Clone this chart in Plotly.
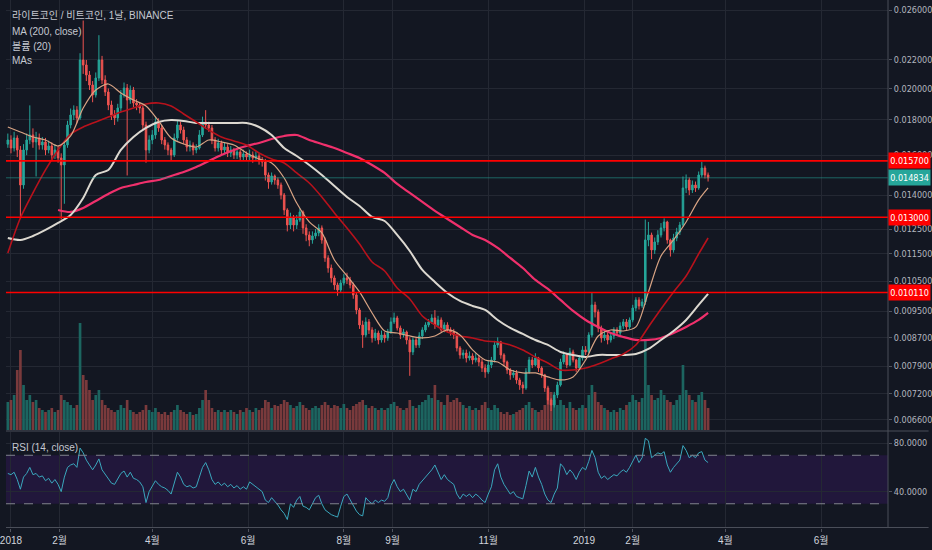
import numpy as np
import pandas as pd
import plotly.graph_objects as go

# LTC/BTC, two-day candles; prices in 1e-6 BTC
dates = pd.date_range("2017-12-30", periods=224, freq="2D")

close_u = [
    16835, 16390, 16948, 16281, 14483, 16281, 16835, 17118, 16723, 16948,
    16556, 16723, 16281, 16501, 16011, 16281, 15852, 15485, 16556, 17701,
    18302, 18611, 18120, 21997, 21633, 20921, 20233, 19568, 20713, 21997,
    20575, 19766, 18925, 18302, 18120, 18736, 19568, 20031, 19244, 19898,
    19052, 18925, 18736, 17701, 16281, 16835, 17118, 17880, 17524, 16835,
    16556, 16281, 16011, 16948, 17701, 17407, 16835, 16445, 16556, 16281,
    16390, 17118, 17880, 17701, 17524, 16835, 16390, 16667, 16281, 16445,
    16119, 16281, 16011, 16173, 15905, 16064, 15905, 16011, 15852, 15958,
    15746, 15641, 14975, 14629, 14926, 14727, 14483, 14007, 13322, 12670,
    12970, 12670, 12883, 13233, 12544, 12253, 12050, 12213, 12335, 12544,
    12050, 11347, 10973, 10612, 10367, 10195, 10436, 10612, 10541, 10367,
    10026, 9535, 9069, 8771, 9161, 8918, 8683, 8829, 8625, 8771,
    8683, 8859, 9161, 9284, 8978, 8771, 8859, 8625, 8286, 8625,
    8482, 8741, 8918, 9069, 9161, 9284, 9069, 9222, 8918, 9069,
    8918, 8859, 8771, 8398, 8203, 8257, 8120, 8175, 8067, 8120,
    8013, 7854, 7750, 7933, 8067, 8482, 8568, 8203, 8013, 7802,
    7673, 7724, 7545, 7420, 7346, 7750, 8067, 7933, 8120, 7854,
    7673, 7346, 7057, 6940, 7176, 7420, 8013, 8203, 7933, 8286,
    8067, 7854, 8120, 8342, 8286, 8771, 9696, 9472, 8978, 8683,
    8771, 8625, 8741, 8918, 8829, 9039, 9161, 9009, 9222, 9599,
    9860, 9664, 9794, 12050, 12253, 11654, 11970, 12253, 12544, 12798,
    12050, 11654, 12130, 12377, 12670, 14339, 14727, 14243, 14483, 14339,
    14975, 15329, 14975, 14834,
]
high_u = [
    17200, 17100, 17300, 17100, 16500, 16600, 17200, 18900, 17500, 17300,
    17200, 17000, 16950, 16800, 16700, 16600, 16500, 16100, 16800, 17950,
    18700, 18900, 18850, 22500, 25100, 22000, 21200, 20500, 21100, 23900,
    22300, 20900, 20000, 19200, 18600, 19000, 19900, 20400, 20300, 20200,
    20100, 19300, 19100, 18900, 17900, 17100, 17400, 18200, 18100, 17700,
    17000, 16700, 16400, 17200, 18000, 17900, 17600, 17000, 16800, 16700,
    16600, 17400, 18200, 18600, 17900, 17700, 17000, 16900, 16800, 16700,
    16600, 16500, 16400, 16400, 16300, 16300, 16200, 16300, 16200, 16200,
    16100, 15900, 15800, 15100, 15100, 15000, 14850, 14600, 14100, 13400,
    13200, 13100, 13100, 13400, 13300, 12700, 12400, 12400, 12500, 12700,
    12650, 12150, 11450, 11100, 10700, 10450, 10550, 10750, 10800, 10650,
    10450, 10100, 9600, 9200, 9300, 9250, 9000, 8950, 8900, 8900,
    8850, 8950, 9300, 9450, 9350, 9050, 8950, 8900, 8700, 8700,
    8700, 8850, 9000, 9150, 9250, 9400, 9530, 9350, 9300, 9150,
    9150, 9000, 8950, 8850, 8450, 8350, 8350, 8300, 8250, 8250,
    8200, 8100, 7950, 8050, 8150, 8600, 8700, 8600, 8250, 8050,
    7850, 7800, 7800, 7600, 7500, 7850, 8150, 8150, 8250, 8150,
    7900, 7700, 7400, 7100, 7250, 7500, 8100, 8300, 8250, 8400,
    8350, 8100, 8200, 8450, 8450, 8850, 10100, 9800, 9550, 9050,
    8900, 8850, 8850, 9000, 9000, 9150, 9250, 9250, 9300, 9700,
    9950, 9950, 9900, 12900, 12800, 12350, 12150, 12450, 12750, 12950,
    12850, 12100, 12300, 12550, 12800, 14900, 15000, 14850, 14700, 14650,
    15150, 15650, 15450, 15100,
]
low_u = [
    16400, 16100, 16200, 15900, 13000, 14300, 16000, 16600, 16400, 14900,
    16300, 16300, 16000, 16100, 15700, 15800, 15600, 12900, 13600, 16400,
    17500, 18000, 17800, 18000, 21000, 20500, 19900, 19100, 19400, 20500,
    20300, 19500, 18600, 18000, 17700, 17900, 18500, 19400, 14950, 19000,
    18800, 18600, 18400, 17400, 15600, 16100, 16600, 16900, 17300, 16600,
    16300, 16000, 15700, 15900, 16800, 17200, 16600, 16200, 16200, 16000,
    16100, 16300, 17000, 17500, 17300, 16600, 16200, 16200, 16000, 16100,
    15900, 15900, 15800, 15800, 15700, 15700, 15700, 15700, 15600, 15700,
    15500, 15400, 14700, 14300, 14500, 14500, 14300, 13800, 13100, 12400,
    12500, 12400, 12500, 12800, 12300, 12000, 11800, 11900, 12100, 12200,
    11900, 11200, 10800, 10450, 10200, 10000, 10100, 10350, 10400, 10250,
    9900, 9400, 8950, 8400, 8700, 8800, 8550, 8600, 8500, 8550,
    8550, 8600, 8800, 9100, 8900, 8650, 8700, 8500, 7650, 8200,
    8400, 8400, 8650, 8850, 9000, 9100, 8950, 9000, 8850, 8850,
    8850, 8750, 8650, 8300, 8100, 8100, 8000, 8050, 7950, 8000,
    7900, 7750, 7600, 7700, 7850, 8000, 8400, 8100, 7900, 7700,
    7550, 7600, 7450, 7300, 7200, 7300, 7700, 7850, 7900, 7750,
    7600, 7250, 6950, 6800, 6880, 7100, 7380, 7950, 7850, 7900,
    8000, 7750, 7800, 8050, 8200, 8250, 8700, 9300, 8850, 8550,
    8600, 8500, 8550, 8650, 8750, 8750, 8950, 8900, 8950, 9150,
    9500, 9550, 9600, 9700, 11800, 11300, 11500, 11850, 12150, 12400,
    11900, 11400, 11550, 12000, 12250, 12600, 14100, 14000, 14100, 14150,
    14250, 14850, 14800, 14650,
]
first_open_u = 16600

volume = [
    28, 30, 35, 60, 80, 45, 30, 35, 28, 30,
    22, 20, 18, 20, 22, 18, 20, 35, 30, 28,
    25, 22, 25, 107, 55, 50, 40, 30, 35, 40,
    30, 25, 22, 20, 18, 20, 25, 22, 30, 20,
    18, 16, 18, 20, 25, 20, 18, 22, 18, 16,
    18, 15, 18, 20, 25, 20, 18, 16, 18, 15,
    16, 22, 30, 40, 30, 22, 18, 20, 18, 20,
    18, 20, 18, 16, 20, 18, 22, 20, 18, 22,
    20, 22, 30, 28, 22, 25, 24, 26, 30, 28,
    25, 22, 24, 28, 25, 22, 20, 22, 24, 22,
    25, 28, 25, 22, 25, 24, 22, 26, 22, 20,
    24, 26, 28, 30, 25, 22, 24, 22, 20, 22,
    20, 22, 26, 28, 24, 22, 20, 22, 30, 24,
    22, 25, 28, 30, 35, 32, 45, 30, 28, 25,
    35, 28, 30, 32, 28, 25, 22, 24, 20, 22,
    20, 25, 28, 22, 20, 25, 22, 18, 16, 18,
    15, 16, 18, 20, 22, 25, 28, 22, 20, 18,
    20, 25, 30, 38, 30, 25, 30, 25, 22, 28,
    22, 20, 22, 25, 22, 35, 45, 38, 28, 25,
    22, 20, 18, 20, 18, 22, 20, 25, 28, 35,
    30, 28, 32, 90, 45, 35, 30, 32, 40, 35,
    30, 28, 25, 30, 35, 65, 40, 35, 30, 28,
    35, 38, 30, 22,
]

rsi = [
    55, 54, 56, 50, 42, 52, 55, 60, 54, 55,
    52, 53, 49, 51, 47, 50, 46, 40, 52, 60,
    62, 63, 60, 76, 72, 66, 62, 58, 62, 67,
    58, 54, 50, 47, 46, 50, 55, 57, 52, 56,
    51, 50, 48, 44, 31, 40, 44, 49, 46, 44,
    43, 41, 38, 48, 56, 52, 46, 44, 45, 43,
    44, 52, 60, 64, 58, 50, 46, 48, 45, 47,
    44, 46, 43, 45, 42, 44, 42, 48, 46, 44,
    42, 40, 33, 31, 35, 32, 29, 25, 22, 17,
    30, 27, 33, 36, 28, 27, 25, 30, 35, 37,
    30, 25, 23, 21, 20, 19, 28, 36, 38, 33,
    28, 24, 21, 20, 35, 32, 30, 33, 31, 33,
    32, 35, 45, 50, 44, 40, 42, 38, 33, 42,
    40, 46, 49, 52, 55, 58, 62, 56, 50, 54,
    50, 48, 46, 38, 34, 38, 36, 38, 35, 38,
    36, 33, 31, 38, 44, 58, 63, 52, 46, 42,
    38, 40, 36, 35, 34, 45, 57, 52, 60, 52,
    46, 38, 33, 31, 38, 43, 63, 60, 54, 58,
    55, 50, 56, 60, 58, 65, 74, 68, 56, 51,
    53, 50, 52, 54, 53, 56, 58, 56, 60, 65,
    70, 64, 68, 84, 82, 68, 70, 72, 71, 73,
    62, 56, 60, 63, 66, 78, 74, 68, 70, 68,
    72, 73, 66, 64,
]

# moving averages, sampled every 4th candle (plus the last one)
ma_idx = list(range(0, 224, 4)) + [223]
ma_short_u = [
    17583, 17291, 17004, 16835, 16501, 17061, 18736, 19898, 20301, 19699,
    19244, 18862, 17939, 16948, 16611, 16445, 16835, 16723, 16556, 16119,
    15799, 15589, 14826, 13637, 12798, 12335, 11271, 10683, 10127, 9440,
    8888, 8829, 8741, 8683, 8741, 8918, 8771, 8342, 8067, 8013,
    7802, 7724, 7724, 7622, 7545, 7622, 8067, 8741, 8918, 8888,
    9009, 10127, 11423, 12050, 12798, 13775, 14339,
]
ma_mid_u = [
    11538, 12970, 14101, 15228, 16281, 17175, 17583, 17880, 18180, 18487,
    18736, 18988, 19052, 18862, 18363, 17880, 17407, 17004, 16779, 16556,
    16119, 15799, 15589, 15076, 14580, 13914, 13189, 12544, 11890, 11196,
    10864, 10264, 9893, 9346, 9069, 8859, 8741, 8683, 8596, 8568,
    8482, 8342, 8148, 7986, 7802, 7802, 7854, 7960, 8094, 8230,
    8482, 9009, 9567, 10127, 10683, 11500, 12130,
]
ma_long_u = [
    12130, 12050, 12213, 12460, 12755, 13101, 13867, 14975, 15228, 16281,
    17004, 17524, 17880, 17999, 17939, 17819, 17819, 17819, 17819, 17819,
    17583, 17118, 16390, 15958, 15485, 14975, 14435, 13914, 13501, 13013,
    12840, 12253, 11615, 10900, 10471, 10093, 9827, 9664, 9535, 9222,
    8978, 8800, 8625, 8482, 8286, 8203, 8148, 8203, 8203, 8203,
    8230, 8370, 8625, 8888, 9222, 9696, 10059,
]
ma200_u = [
    None, None, None, None, 13322, 13233, 13411, 13729, 14054, 14339,
    14483, 14629, 14727, 14926, 15127, 15382, 15693, 16011, 16281, 16501,
    16667, 16891, 17061, 17118, 16835, 16611, 16390, 16119, 15852, 15485,
    15076, 14532, 14101, 13683, 13278, 12926, 12586, 12253, 12050, 11732,
    11347, 10973, 10541, 10229, 9860, 9504, 9222, 9009, 8829, 8712,
    8625, 8625, 8683, 8829, 9009, 9222, 9440,
]

levels = [0.0157, 0.0130, 0.01011]
last_price = 0.014834
price_ticks = [0.0066, 0.0072, 0.0079, 0.0087, 0.0095, 0.0105, 0.0115,
               0.0125, 0.014, 0.016, 0.018, 0.020, 0.022, 0.026]
month_ticks = ["2018-01-01", "2018-02-01", "2018-04-01", "2018-06-01",
               "2018-08-01", "2018-09-01", "2018-11-01", "2019-01-01",
               "2019-02-01", "2019-04-01", "2019-06-01"]
month_labels = ["2018", "2월", "4월", "6월", "8월", "9월", "11월",
                "2019", "2월", "4월", "6월"]

U = 1e-6
close = np.array(close_u) * U
high = np.array(high_u) * U
low = np.array(low_u) * U
open_ = np.array([first_open_u] + close_u[:-1]) * U
up = close >= open_

BG = "#131722"
GRID = "#242833"
TXT = "#b2b5be"
FONT = "Liberation Sans, Noto Sans CJK KR, sans-serif"
SCALE_FONT = "Liberation Sans Narrow, DejaVu Sans Condensed, Liberation Sans, sans-serif"
H = 528.0  # plot height in px (550 - bottom margin)
x_range = ["2017-12-28 20:00", "2019-07-13 14:00"]

fig = go.Figure()

# volume overlay (bottom of the price pane)
fig.add_trace(go.Bar(
    x=dates, y=volume, xaxis="x", yaxis="y",
    marker=dict(color=np.where(up, "#1c6560", "#7a3a3c"), line=dict(width=0)),
    hoverinfo="skip", showlegend=False,
))

fig.add_trace(go.Candlestick(
    x=dates, open=open_, high=high, low=low, close=close,
    xaxis="x", yaxis="y3", whiskerwidth=0,
    increasing=dict(line=dict(color="#26a69a", width=1), fillcolor="#26a69a"),
    decreasing=dict(line=dict(color="#ef5350", width=1), fillcolor="#ef5350"),
    showlegend=False,
))

ma_dates = dates[ma_idx]
for vals, color, w in [
    (ma200_u, "#f0306c", 2.2),
    (ma_long_u, "#dcd8d0", 2),
    (ma_mid_u, "#b8121c", 1.6),
    (ma_short_u, "#d9a484", 1.2),
]:
    fig.add_trace(go.Scatter(
        x=ma_dates, y=np.array(vals, dtype=float) * U, mode="lines",
        line=dict(color=color, width=w, shape="spline", smoothing=0.8),
        xaxis="x", yaxis="y3", hoverinfo="skip", showlegend=False,
    ))

# horizontal levels and last price line
for lv in levels:
    fig.add_trace(go.Scatter(
        x=x_range, y=[lv, lv], mode="lines", line=dict(color="#ff0000", width=1.6),
        xaxis="x", yaxis="y3", hoverinfo="skip", showlegend=False,
    ))
fig.add_trace(go.Scatter(
    x=x_range, y=[last_price, last_price], mode="lines",
    line=dict(color="rgba(38,166,154,0.55)", width=1),
    xaxis="x", yaxis="y3", hoverinfo="skip", showlegend=False,
))

# RSI
fig.add_trace(go.Scatter(
    x=dates, y=rsi, mode="lines", line=dict(color="#3aa7bd", width=1),
    xaxis="x2", yaxis="y2", hoverinfo="skip", showlegend=False,
))

main_bottom = 1 - 430 / H
rsi_top = 1 - 432 / H
lo_p, hi_p = 0.0063825, 0.026884
scale_font = dict(size=9, color=TXT, family=SCALE_FONT)

fig.update_layout(
    width=932, height=550,
    margin=dict(l=0, r=41, t=0, b=22),
    paper_bgcolor=BG, plot_bgcolor=BG,
    font=dict(family=FONT, size=10, color=TXT),
    bargap=0.15,
    xaxis=dict(domain=[0, 1], anchor="y", range=x_range, rangeslider=dict(visible=False),
               tickvals=month_ticks, showticklabels=False, showgrid=True,
               gridcolor=GRID, zeroline=False),
    xaxis2=dict(domain=[0, 1], anchor="y2", matches="x", range=x_range,
                tickvals=month_ticks, ticktext=month_labels, showgrid=True,
                gridcolor=GRID, ticks="outside", ticklen=3, tickcolor="#50535e",
                ticklabeloverflow="allow",
                tickfont=dict(size=10, color="#d1d4dc"), zeroline=False),
    yaxis=dict(domain=[main_bottom, 1], range=[0, 430], visible=False,
               fixedrange=True),
    yaxis3=dict(overlaying="y", side="right", anchor="x", type="log",
                range=[np.log10(lo_p), np.log10(hi_p)],
                tickvals=price_ticks, ticktext=[f"{v:.6f}" for v in price_ticks],
                showgrid=True, gridcolor=GRID, ticks="outside", ticklen=3,
                tickcolor="#50535e", tickfont=scale_font, zeroline=False),
    yaxis2=dict(domain=[0, rsi_top], anchor="x2", side="right", range=[10, 89.2],
                tickvals=[40, 80], ticktext=["40.0000", "80.0000"],
                showgrid=True, gridcolor=GRID, ticks="outside", ticklen=3,
                tickcolor="#50535e", tickfont=scale_font, zeroline=False),
)

# RSI band and bounds
fig.add_shape(type="rect", xref="paper", x0=0, x1=1, yref="y2", y0=30, y1=70,
              fillcolor="rgba(90,25,160,0.2)", line=dict(width=0), layer="below")
for lvl in (30, 70):
    fig.add_shape(type="line", xref="paper", x0=0, x1=1, yref="y2", y0=lvl, y1=lvl,
                  line=dict(color="#80838d", width=1, dash="dash"))

# pane separators and price scale border
for py in (431, 527.5):
    fig.add_shape(type="line", xref="paper", x0=0, x1=932 / 891, yref="paper",
                  y0=1 - py / H, y1=1 - py / H, line=dict(color="#4a4e59", width=1.2))
fig.add_shape(type="line", xref="paper", x0=1, x1=1, yref="paper", y0=0, y1=1,
              line=dict(color="#4a4e59", width=1))

# price labels on the scale
for lv, col in [(levels[0], "#ff0000"), (last_price, "#26a69a"),
                (levels[1], "#ff0000"), (levels[2], "#ff0000")]:
    fig.add_annotation(xref="paper", x=1, xanchor="left", yref="y3", y=np.log10(lv),
                       yanchor="middle", text=f"{lv:.6f}", showarrow=False,
                       bgcolor=col, font=dict(color="#ffffff", size=9, family=SCALE_FONT),
                       width=39, height=13, borderpad=1, align="center")

# legend captions
captions = ["라이트코인 / 비트코인, 1날, BINANCE", "MA (200, close)", "볼륨 (20)", "MAs"]
for k, txt in enumerate(captions):
    fig.add_annotation(xref="paper", x=0.004, xanchor="left", yref="paper",
                       y=1 - (16 + 15 * k) / H, yanchor="middle", text=txt,
                       showarrow=False, font=dict(size=10, color="#c5c8d0"))
fig.add_annotation(xref="paper", x=0.004, xanchor="left", yref="paper",
                   y=1 - 447 / H, yanchor="middle", text="RSI (14, close)",
                   showarrow=False, font=dict(size=10, color="#c5c8d0"))

fig.write_html("out.html", config={"displayModeBar": False},
               post_script="document.body.style.margin='0';")
